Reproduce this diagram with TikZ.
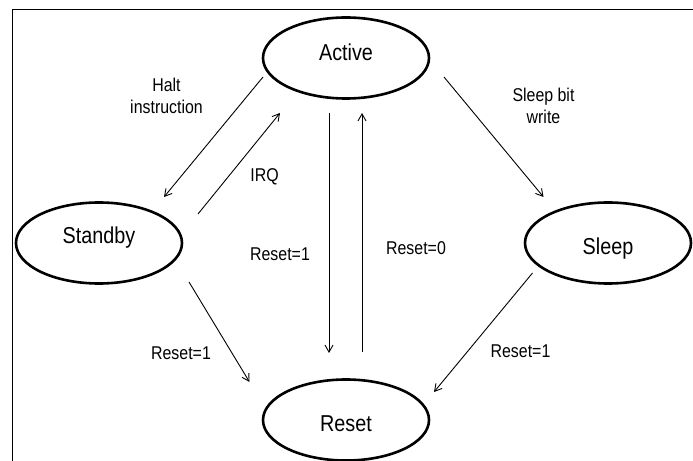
\documentclass[tikz,border=0pt]{standalone}
\usepackage{fontspec}
\setmainfont{Liberation Sans}[FakeStretch=0.86]
\usetikzlibrary{shapes.geometric,arrows.meta}
\newcommand\stfont{\fontsize{23bp}{27bp}\selectfont}
\newcommand\lbfont{\fontsize{18.5bp}{22bp}\selectfont}
\begin{document}
\begin{tikzpicture}[x=1bp,y=-1bp,
  state/.style={ellipse,draw,line width=2.6bp,minimum width=166bp,minimum height=81bp,
    inner sep=0pt,text height=0pt,text depth=0pt,font=\stfont},
  arr/.style={line width=0.9bp,-{Straight Barb[length=7bp,width=8bp]}},
  lbl/.style={font=\lbfont,inner sep=0pt,anchor=base},
  mlbl/.style={font=\lbfont,inner sep=0pt,align=center},
  frame/.style={line width=1.2bp}]
\useasboundingbox (0,0) rectangle (693,461);
\draw[frame] (12.3,461) -- (12.3,9.3) -- (693,9.3);

\node[state] (Active)  at (346,58)  {\raisebox{-2.5bp}{Active}};
\node[state] (Standby) at (99,243)  {\raisebox{-0.3bp}{Standby}};
\node[state] (Sleep)   at (608,243) {\raisebox{-12bp}{Sleep}};
\node[state] (Reset)   at (346,420) {\raisebox{-11.5bp}{Reset}};

\draw[arr] ([shift={(-83,19)}]Active.center) -- ([shift={(65,-46)}]Standby.center);
\draw[arr] ([shift={(99,-29)}]Standby.center) -- ([shift={(-66,55)}]Active.center);
\draw[arr] ([shift={(-17,55)}]Active.center) -- ([shift={(-17,-67)}]Reset.center);
\draw[arr] ([shift={(16,-68)}]Reset.center) -- ([shift={(16,55)}]Active.center);
\draw[arr] ([shift={(98,19)}]Active.center) -- ([shift={(-64.5,-46)}]Sleep.center);
\draw[arr] ([shift={(90,39)}]Standby.center) -- ([shift={(-96.5,-38)}]Reset.center);
\draw[arr] ([shift={(-75.5,30)}]Sleep.center) -- ([shift={(88,-28)}]Reset.center);

\node[mlbl] (lHalt)  at (166.5,96)  {Halt\\instruction};
\node[mlbl] (lSleep) at (543.5,105.5) {Sleep bit\\write};
\node[lbl]  (lIRQ)   at (264.5,181.7) {IRQ};
\node[lbl]  (lR1m)   at (280,261) {Reset=1};
\node[lbl]  (lR0)    at (416,255) {Reset=0};
\node[lbl]  (lR1l)   at (181,359) {Reset=1};
\node[lbl]  (lR1r)   at (520.5,357) {Reset=1};
\end{tikzpicture}
\end{document}
